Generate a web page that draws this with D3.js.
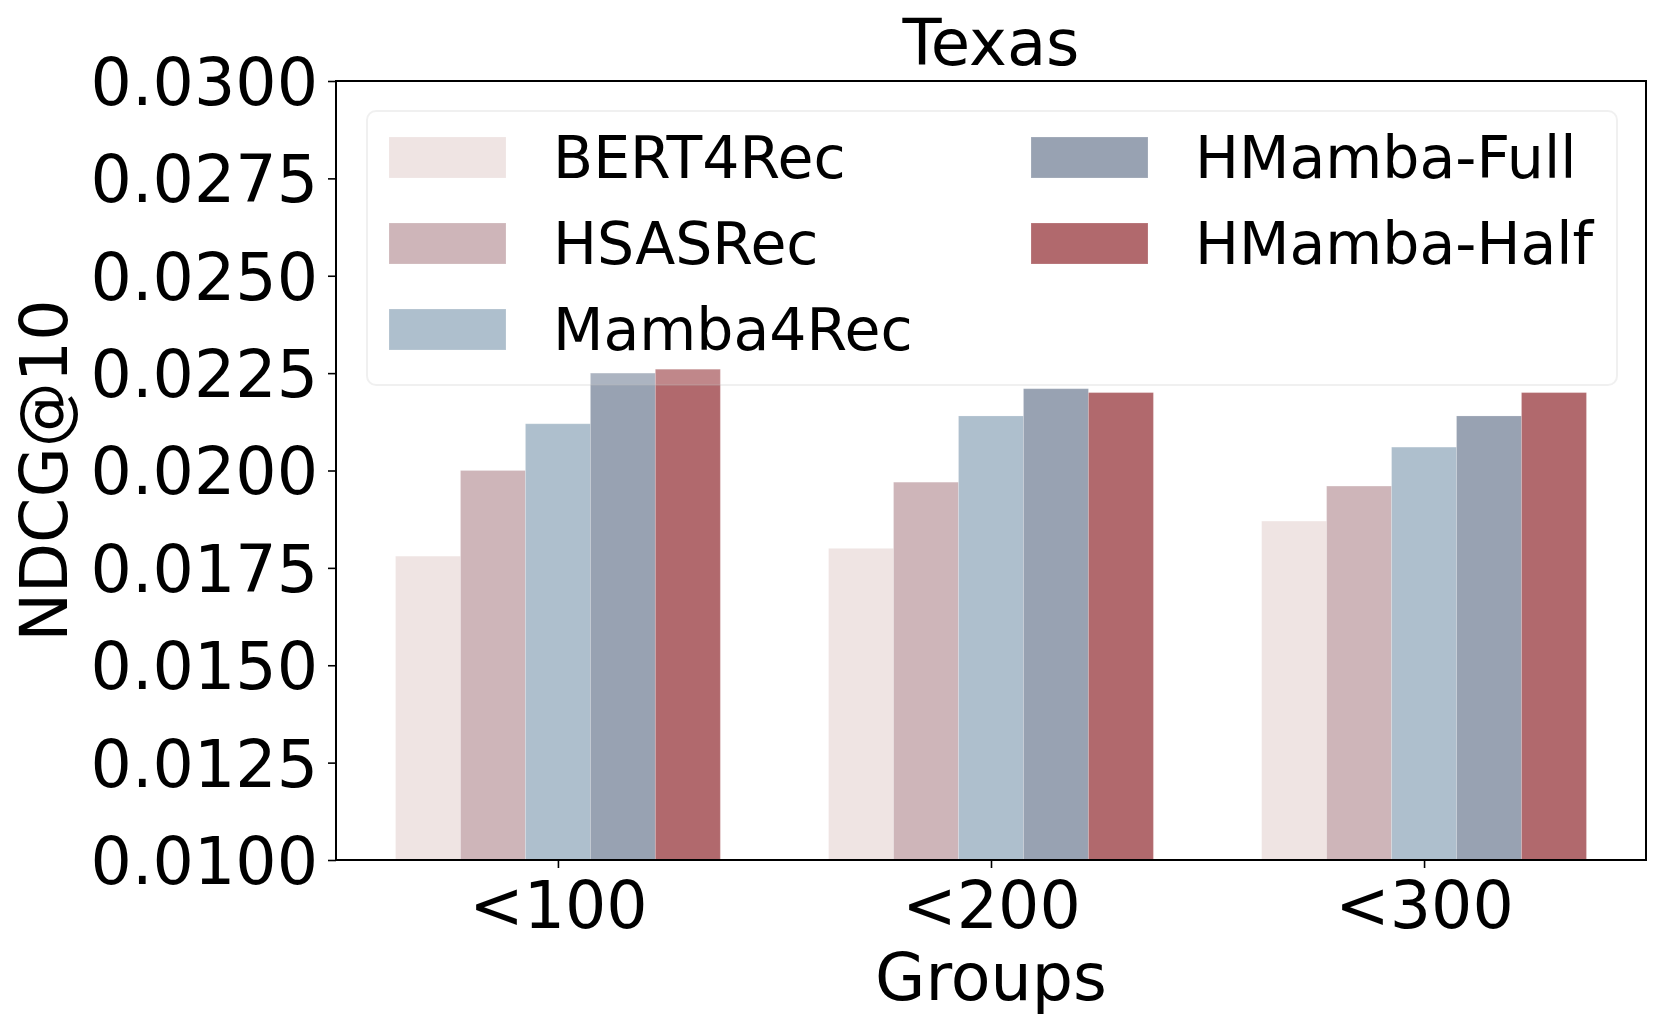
<!DOCTYPE html>
<html>
<head>
<meta charset="utf-8">
<script src="https://cdn.jsdelivr.net/npm/d3@7"></script>
<style>
  html, body { margin: 0; padding: 0; background: #fff; }
  svg { display: block; font-family: "DejaVu Sans", sans-serif; }
</style>
</head>
<body>
<svg id="chart" width="1662" height="1031"></svg>
<script>
// ---- data ----
const groups = ["<100", "<200", "<300"];
const seriesNames = ["BERT4Rec", "HSASRec", "Mamba4Rec", "HMamba-Full", "HMamba-Half"];
const seriesColors = ["#EFE4E3", "#CEB5B9", "#AEBFCD", "#98A2B2", "#B1696D"];
const BERT4Rec   = [0.0178, 0.0180, 0.0187];
const HSASRec    = [0.0200, 0.0197, 0.0196];
const Mamba4Rec  = [0.0212, 0.0214, 0.0206];
const HMambaFull = [0.0225, 0.0221, 0.0214];
const HMambaHalf = [0.0226, 0.0220, 0.0220];
const yTicks = [0.0100, 0.0125, 0.0150, 0.0175, 0.0200, 0.0225, 0.0250, 0.0275, 0.0300];
const titleText = "Texas";
const xLabel = "Groups";
const yLabel = "NDCG@10";

const seriesValues = [BERT4Rec, HSASRec, Mamba4Rec, HMambaFull, HMambaHalf];

// ---- layout ----
const L = 336, R = 1646, T = 81, B = 860;
const barW = 0.15;
const svg = d3.select("#chart");

const x = d3.scaleLinear().domain([-0.5125, 2.5125]).range([L, R]);
const y = d3.scaleLinear().domain([0.01, 0.03]).range([B, T]);

// bars
seriesValues.forEach((vals, j) => {
  svg.append("g").selectAll("rect").data(vals).join("rect")
    .attr("x", (d, i) => x(i + (j - 2) * barW - barW / 2))
    .attr("width", x(barW) - x(0))
    .attr("y", d => y(d))
    .attr("height", d => y(0.01) - y(d))
    .attr("fill", seriesColors[j])
    .attr("stroke", "#ffffff")
    .attr("stroke-opacity", 0.18)
    .attr("stroke-width", 1);
});

// y axis
const yAxis = d3.axisLeft(y).tickValues(yTicks).tickFormat(d3.format(".4f"))
  .tickSize(8).tickPadding(10);
const gy = svg.append("g").attr("transform", `translate(${L},0)`).call(yAxis);
gy.select(".domain").remove();
gy.selectAll(".tick line").attr("stroke", "#000").attr("stroke-width", 1.6);
gy.selectAll(".tick text").attr("font-size", 65).attr("fill", "#000")
  .attr("font-family", "DejaVu Sans").attr("dy", "0.36em");

// x axis
const xAxis = d3.axisBottom(x).tickValues(groups.map((g, i) => i))
  .tickFormat(i => groups[i]).tickSize(8).tickPadding(10);
const gx = svg.append("g").attr("transform", `translate(0,${B})`).call(xAxis);
gx.select(".domain").remove();
gx.selectAll(".tick line").attr("stroke", "#000").attr("stroke-width", 1.6);
gx.selectAll(".tick text").attr("font-size", 65).attr("fill", "#000")
  .attr("font-family", "DejaVu Sans").attr("dy", null).attr("y", 68);

// frame
svg.append("rect").attr("x", L).attr("y", T).attr("width", R - L).attr("height", B - T)
  .attr("fill", "none").attr("stroke", "#000").attr("stroke-width", 2);

// title and labels
svg.append("text").attr("x", (L + R) / 2).attr("y", 65).attr("text-anchor", "middle")
  .attr("font-size", 64).text(titleText);
svg.append("text").attr("x", (L + R) / 2).attr("y", 1000).attr("text-anchor", "middle")
  .attr("font-size", 65).text(xLabel);
svg.append("text").attr("transform", `translate(67,${(T + B) / 2}) rotate(-90)`)
  .attr("text-anchor", "middle").attr("font-size", 65).text(yLabel);

// legend
const lg = svg.append("g");
lg.append("rect").attr("x", 367).attr("y", 111).attr("width", 1250).attr("height", 274)
  .attr("rx", 9).attr("ry", 9)
  .attr("fill", "#fff").attr("fill-opacity", 0.2)
  .attr("stroke", "#bbbbbb").attr("stroke-opacity", 0.22).attr("stroke-width", 2);
const colX = [389, 1031];
const rowY = [137, 223, 309];
seriesNames.forEach((name, j) => {
  const c = j < 3 ? 0 : 1;
  const r = j < 3 ? j : j - 3;
  lg.append("rect").attr("x", colX[c]).attr("y", rowY[r]).attr("width", 117).attr("height", 41)
    .attr("fill", seriesColors[j]).attr("stroke", "#fff").attr("stroke-opacity", 0.2);
  lg.append("text").attr("x", colX[c] + 164).attr("y", rowY[r] + 41)
    .attr("font-size", 58.5).attr("fill", "#000").text(name);
});
</script>
</body>
</html>
